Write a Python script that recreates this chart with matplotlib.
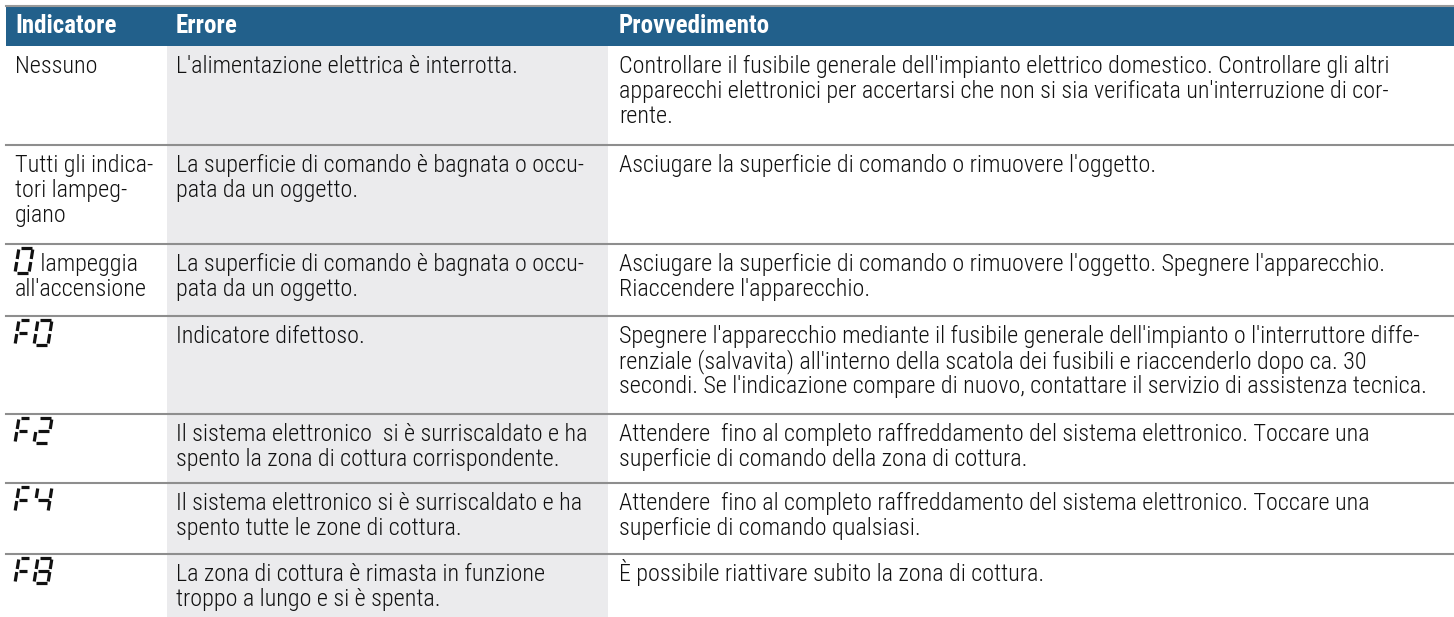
import matplotlib
matplotlib.use("Agg")
import matplotlib.pyplot as plt

plt.rcParams["font.family"] = ["Roboto Condensed", "Archivo Narrow", "DejaVu Sans"]

# Table content
headers = ["Indicatore", "Errore", "Provvedimento"]

display_codes = ["", "", "0", "F0", "F2", "F4", "F8"]

indicator_text = [
    "Nessuno",
    "Tutti gli indica-\ntori lampeg-\ngiano",
    " lampeggia\nall'accensione",
    "", "", "", "",
]

errors = [
    "L'alimentazione elettrica è interrotta.",
    "La superficie di comando è bagnata o occu-\npata da un oggetto.",
    "La superficie di comando è bagnata o occu-\npata da un oggetto.",
    "Indicatore difettoso.",
    "Il sistema elettronico  si è surriscaldato e ha\nspento la zona di cottura corrispondente.",
    "Il sistema elettronico si è surriscaldato e ha\nspento tutte le zone di cottura.",
    "La zona di cottura è rimasta in funzione\ntroppo a lungo e si è spenta.",
]

remedies = [
    "Controllare il fusibile generale dell'impianto elettrico domestico. Controllare gli altri\n"
    "apparecchi elettronici per accertarsi che non si sia verificata un'interruzione di cor-\n"
    "rente.",
    "Asciugare la superficie di comando o rimuovere l'oggetto.",
    "Asciugare la superficie di comando o rimuovere l'oggetto. Spegnere l'apparecchio.\n"
    "Riaccendere l'apparecchio.",
    "Spegnere l'apparecchio mediante il fusibile generale dell'impianto o l'interruttore diffe-\n"
    "renziale (salvavita) all'interno della scatola dei fusibili e riaccenderlo dopo ca. 30\n"
    "secondi. Se l'indicazione compare di nuovo, contattare il servizio di assistenza tecnica.",
    "Attendere  fino al completo raffreddamento del sistema elettronico. Toccare una\n"
    "superficie di comando della zona di cottura.",
    "Attendere  fino al completo raffreddamento del sistema elettronico. Toccare una\n"
    "superficie di comando qualsiasi.",
    "È possibile riattivare subito la zona di cottura.",
]

# Layout (pixels)
W, H = 1454, 617
left = 6
col_x = [6, 167, 608]
text_x = [15, 176, 619]
header_top, header_bot = 7, 46
row_tops = [46, 145, 244, 316, 414, 483, 554]
line_h = 25
blue = "#22608b"
shade = "#ebebed"
rule = "#8e8e8e"
fs_head = 18
fs = 17.4

# seven segment glyphs
SEGS = {
    "0": "abcdef",
    "2": "abged",
    "4": "fgbc",
    "8": "abcdefg",
    "F": "aefg",
}


def draw_seg_char(ax, ch, x0, ytop, h=25, slant=0.16, gap=1.5):
    w = 11 if ch == "F" else 14
    m = h / 2
    ends = {
        "a": ((0, h), (w, h)),
        "b": ((w, h), (w, m)),
        "c": ((w, m), (w, 0)),
        "d": ((0, 0), (w, 0)),
        "e": ((0, m), (0, 0)),
        "f": ((0, h), (0, m)),
        "g": ((0, m), (w, m)),
    }
    ybot = ytop + h
    for s in SEGS[ch]:
        (u1, v1), (u2, v2) = ends[s]
        du, dv = u2 - u1, v2 - v1
        ln = (du ** 2 + dv ** 2) ** 0.5
        u1, v1 = u1 + du / ln * gap, v1 + dv / ln * gap
        u2, v2 = u2 - du / ln * gap, v2 - dv / ln * gap
        xs = [x0 + u1 + slant * v1, x0 + u2 + slant * v2]
        ys = [ybot - v1, ybot - v2]
        ax.plot(xs, ys, color="#111111", lw=2.3, solid_capstyle="butt")
    return w


def draw_code(ax, code, x0, ytop):
    x = x0
    for ch in code:
        draw_seg_char(ax, ch, x, ytop)
        x += 19


fig = plt.figure(figsize=(W / 100, H / 100), dpi=100)
ax = fig.add_axes([0, 0, 1, 1])
ax.set_xlim(0, W)
ax.set_ylim(H, 0)
ax.axis("off")

# shaded Errore column
ax.add_patch(plt.Rectangle((col_x[1], header_bot), col_x[2] - col_x[1], H - header_bot,
                           color=shade, lw=0))
# header band
ax.plot([left, W], [5.5, 5.5], color="#9a9a9a", lw=1.5)
ax.add_patch(plt.Rectangle((left, header_top), W - left, header_bot - header_top,
                           color=blue, lw=0))
for x, t in zip(text_x, headers):
    ax.text(x, 33, t, color="white", fontsize=fs_head, fontweight="bold", va="baseline")

for i, top in enumerate(row_tops):
    if i > 0:
        ax.plot([left, W], [top, top], color=rule, lw=1.5)
    base = top + 27
    cols = [indicator_text[i], errors[i], remedies[i]]
    for j, txt in enumerate(cols):
        x = text_x[j]
        if j == 0 and display_codes[i]:
            draw_code(ax, display_codes[i], x, top + 4)
            if txt:
                x = x + 20
        for k, line in enumerate(txt.split("\n")):
            xx = x if k == 0 else text_x[j]
            ax.text(xx, base + k * line_h, line, color="#111111", fontsize=fs,
                    fontweight="light", va="baseline")

fig.savefig("out.png", dpi=100)
